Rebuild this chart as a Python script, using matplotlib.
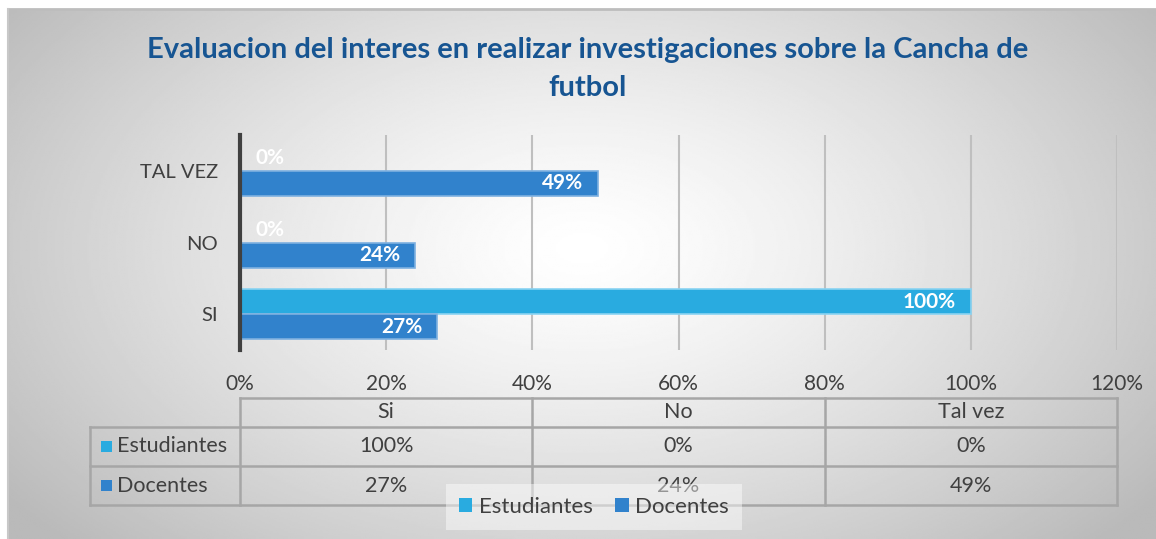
import numpy as np
import matplotlib
matplotlib.use('Agg')
import matplotlib.pyplot as plt
from matplotlib.transforms import blended_transform_factory
from matplotlib.patches import Rectangle, Patch
from matplotlib.lines import Line2D

title = "Evaluacion del interes en realizar investigaciones sobre la Cancha de\nfutbol"
categories = ["SI", "NO", "TAL VEZ"]
table_cols = ["Si", "No", "Tal vez"]
series_names = ["Estudiantes", "Docentes"]
estudiantes = [100, 0, 0]
docentes = [27, 24, 49]
xticks = [0, 20, 40, 60, 80, 100, 120]
colors = ["#29ABE0", "#3182CC"]
edge_colors = ["#8AD3F2", "#7DB0E0"]

W, H = 1156, 539
plt.rcParams['font.family'] = ['Lato', 'DejaVu Sans']
fig = plt.figure(figsize=(W / 100, H / 100), dpi=100)
TXT = '#404040'

def fx(px):
    return px / W

def fy(py):
    return 1 - py / H

# background gradient
bg = fig.add_axes([fx(8), 0, 1 - fx(8), 1 - 10 / H])
ny, nx = 300, 600
yy, xx = np.mgrid[0:1:ny * 1j, 0:1:nx * 1j]
cx, cy = 0.5, 0.55
r = np.sqrt(((xx - cx) / 0.62) ** 2 + ((yy - cy) / 0.8) ** 2)
v = 1 - 0.27 * np.clip(r, 0, 1) ** 1.3
bg.imshow(v, cmap='gray', vmin=0, vmax=1, extent=[0, 1, 0, 1], aspect='auto', origin='lower')
bg.axis('off')
fig.add_artist(Line2D([fx(8), 1], [fy(9), fy(9)], color='#BDBDBD', lw=2, transform=fig.transFigure))
fig.add_artist(Line2D([fx(8), fx(8)], [0, fy(9)], color='#C8C8C8', lw=1.5, transform=fig.transFigure))

fig.text(fx(588), fy(69), title, ha='center', va='center', fontsize=21, fontweight='bold',
         color='#175592', linespacing=1.6)

ax = fig.add_axes([fx(240), fy(350), fx(1117) - fx(240), fy(135) - fy(350)])
ax.set_facecolor('none')
ypos = np.arange(len(categories))
h = 0.35
series = [estudiantes, docentes]
offsets = [h / 2, -h / 2]
for vals, off, c, ec in zip(series, offsets, colors, edge_colors):
    ax.barh(ypos + off, vals, height=h, color=c, edgecolor=ec, lw=1.2, zorder=3)
    for yi, val in zip(ypos, vals):
        if val == 0:
            ax.annotate(f"{val}%", xy=(val, yi + off), xytext=(11, 0), textcoords='offset points',
                        ha='left', va='center', color='white', fontweight='bold', fontsize=15, zorder=4)
        else:
            ax.annotate(f"{val}%", xy=(val, yi + off), xytext=(-11, 0), textcoords='offset points',
                        ha='right', va='center', color='white', fontweight='bold', fontsize=15, zorder=4)

ax.set_xlim(0, 120)
ax.set_ylim(-0.5, 2.5)
ax.set_xticks(xticks)
ax.set_xticklabels([f"{t}%" for t in xticks])
ax.set_yticks(ypos)
ax.set_yticklabels(categories)
ax.xaxis.grid(True, color='#BFBFBF', lw=1.5, zorder=1)
ax.set_axisbelow(True)
for s in ['top', 'right', 'bottom']:
    ax.spines[s].set_visible(False)
ax.spines['left'].set_color('#404040')
ax.spines['left'].set_linewidth(3)
ax.spines['left'].set_zorder(5)
ax.tick_params(axis='x', length=0, labelsize=15, colors=TXT, pad=17)
ax.tick_params(axis='y', length=0, labelsize=14.5, colors=TXT, pad=16)

# data table
tr = blended_transform_factory(ax.transData, fig.transFigure)
lc = '#A6A6A6'
lw = 1.8
row_y = [fy(398), fy(427), fy(466), fy(505)]
x_left = fx(90)
x_right = ax.get_position().x1
x_axis = ax.get_position().x0
fig.add_artist(Line2D([x_axis, x_right], [row_y[0], row_y[0]], color=lc, lw=lw, transform=fig.transFigure))
for yl in row_y[1:]:
    fig.add_artist(Line2D([x_left, x_right], [yl, yl], color=lc, lw=lw, transform=fig.transFigure))
fig.add_artist(Line2D([x_left, x_left], [row_y[1], row_y[3]], color=lc, lw=lw, transform=fig.transFigure))
ncol = len(table_cols)
col_w = 120 / ncol
for i in range(ncol + 1):
    fig.add_artist(Line2D([i * col_w, i * col_w], [row_y[0], row_y[3]], color=lc, lw=lw, transform=tr))
for i, name in enumerate(table_cols):
    xc = i * col_w + col_w / 2
    fig.text(xc, (row_y[0] + row_y[1]) / 2, name, transform=tr, ha='center', va='center', fontsize=15.5, color=TXT)
    for j, vals in enumerate(series):
        fig.text(xc, (row_y[j + 1] + row_y[j + 2]) / 2, f"{vals[i]}%", transform=tr,
                 ha='center', va='center', fontsize=15.5, color=TXT)
for j, (name, c) in enumerate(zip(series_names, colors)):
    yc = (row_y[j + 1] + row_y[j + 2]) / 2
    fig.add_artist(Rectangle((fx(101), yc - 5.5 / H), 11 / W, 11 / H, facecolor=c, edgecolor='none',
                             transform=fig.transFigure))
    fig.text(fx(117), yc, name, ha='left', va='center', fontsize=15.5, color=TXT)

handles = [Patch(facecolor=c, edgecolor='none') for c in colors]
leg = fig.legend(handles, series_names, loc='center', bbox_to_anchor=(fx(594), fy(507)), ncol=2,
                 fontsize=16, frameon=True, handlelength=0.6, handleheight=0.6, handletextpad=0.3,
                 columnspacing=1.0, labelcolor=TXT, borderpad=0.6, fancybox=False)
leg.get_frame().set_facecolor('white')
leg.get_frame().set_alpha(0.45)
leg.get_frame().set_edgecolor('none')

fig.savefig('out.png', dpi=100)
